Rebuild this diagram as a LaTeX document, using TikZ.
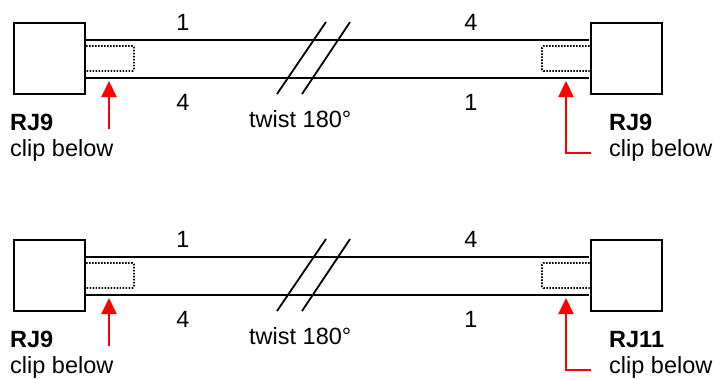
\documentclass[tikz,border=0pt]{standalone}
\usepackage{fontspec}
\setmainfont{Liberation Sans}
\usetikzlibrary{arrows.meta}
\definecolor{clipred}{RGB}{255,0,0}
\tikzset{
  jack/.style={draw, line width=2pt, minimum width=71pt, minimum height=71pt, inner sep=0pt, fill=white},
  wire/.style={line width=2pt},
  latch/.style={line width=1.8pt, dash pattern=on 1.5pt off 1.5pt, rounded corners=1.5pt},
  cut/.style={line width=1.8pt},
  pointer/.style={draw=clipred, line width=2pt, -{Triangle[length=16pt,width=15pt]}},
  lbl/.style={inner sep=0pt, font=\fontsize{23.5}{28}\selectfont},
}
\begin{document}
\begin{tikzpicture}[x=1pt,y=-1pt]
\useasboundingbox (0,0) rectangle (713,378);
\foreach \dy/\plug/\s in {0/RJ9/a, 217/RJ11/b}{
  % cable body between the two plugs
  \coordinate (tl\s) at (86,{39.5+\dy});
  \coordinate (tr\s) at (589,{39.5+\dy});
  \coordinate (bl\s) at (86,{78+\dy});
  \coordinate (br\s) at (589,{78+\dy});
  \draw[wire] (tl\s) -- (tr\s);
  \draw[wire] (bl\s) -- (br\s);
  % plug bodies
  \node[jack] (lj\s) at (49.5,{58.5+\dy}) {};
  \node[jack] (rj\s) at (626,{58.5+\dy}) {};
  % latch outlines inside the cable
  \draw[latch] (lj\s.east |- 0,{46+\dy}) -- (134,{46+\dy}) -- (134,{71+\dy}) -- (lj\s.east |- 0,{71+\dy});
  \draw[latch] (rj\s.west |- 0,{46+\dy}) -- (542,{46+\dy}) -- (542,{71+\dy}) -- (rj\s.west |- 0,{71+\dy});
  % break marks
  \coordinate (c1\s) at (277,{94+\dy});
  \coordinate (c2\s) at (326,{22+\dy});
  \coordinate (c3\s) at (302,{94+\dy});
  \coordinate (c4\s) at (350,{22+\dy});
  \draw[cut] (c1\s) -- (c2\s);
  \draw[cut] (c3\s) -- (c4\s);
  % pin numbers
  \node[lbl, anchor=base] (p1\s) at (183,{30+\dy}) {1};
  \node[lbl, anchor=base] (p2\s) at (183,{110+\dy}) {4};
  \node[lbl, anchor=base] (p3\s) at (471,{30+\dy}) {4};
  \node[lbl, anchor=base] (p4\s) at (471,{110+\dy}) {1};
  \node[lbl, anchor=base west] (tw\s) at (249,{127+\dy}) {twist 180°};
  % plug labels
  \node[lbl, anchor=base west] (ln\s) at (10,{130+\dy}) {\textbf{RJ9}};
  \node[lbl, anchor=base west] (lc\s) at (10,{156.5+\dy}) {clip below};
  \node[lbl, anchor=base west] (rn\s) at (609,{130+\dy}) {\textbf{\plug}};
  \node[lbl, anchor=base west] (rc\s) at (609,{156.5+\dy}) {clip below};
  % clip pointers
  \coordinate (la\s) at (109,{81+\dy});
  \coordinate (lt\s) at (109,{129+\dy});
  \coordinate (ra\s) at (566,{81+\dy});
  \coordinate (rt\s) at (591,{153+\dy});
  \draw[pointer] (lt\s) -- (la\s);
  \draw[pointer] (rt\s) -| (ra\s);
}
\end{tikzpicture}
\end{document}
